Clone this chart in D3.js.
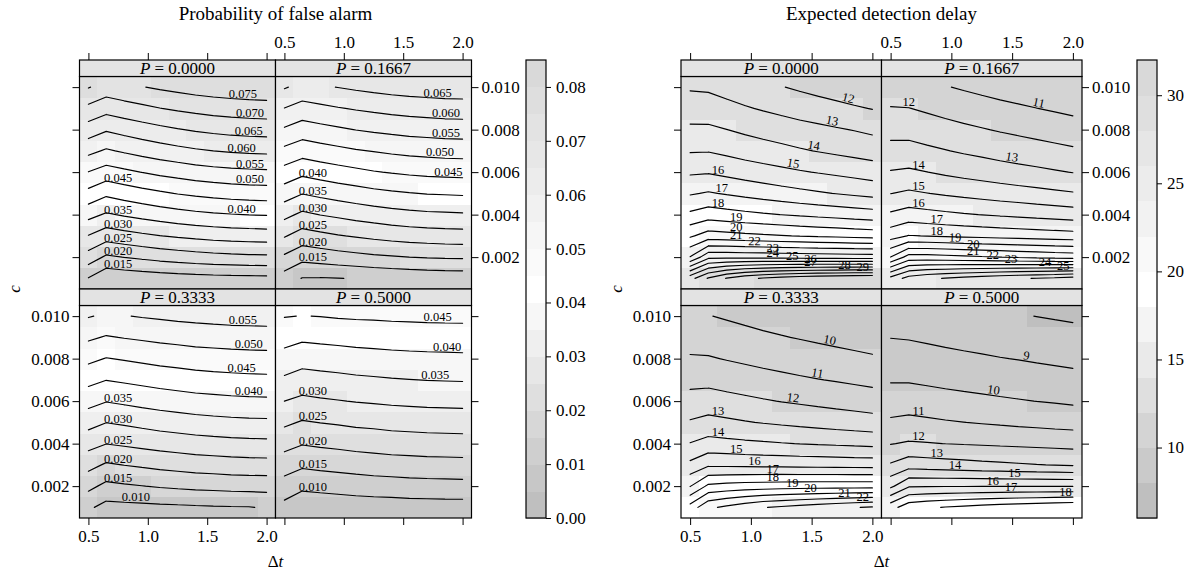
<!DOCTYPE html>
<html>
<head>
<meta charset="utf-8">
<script src="https://cdn.jsdelivr.net/npm/d3@7"></script>
<style>
  body { margin: 0; background: #fff; }
  text { font-family: "Liberation Serif", "Times New Roman", serif; fill: #000; }
</style>
</head>
<body>
<svg id="chart" width="1192" height="575"></svg>
<script>
// grid the surfaces were computed on
const dtValues = [0.5, 0.65, 0.8, 0.95, 1.1, 1.25, 1.4, 1.55, 1.7, 1.85, 2.0];
const cValues = [0.001, 0.002, 0.003, 0.004, 0.005, 0.006, 0.007, 0.008, 0.009, 0.010];
const pLabels = ["0.0000", "0.1667", "0.3333", "0.5000"];

const xTicks = [0.5, 1.0, 1.5, 2.0];
const yTicks = [0.002, 0.004, 0.006, 0.008, 0.010];

const faLevels = [0.010, 0.015, 0.020, 0.025, 0.030, 0.035, 0.040, 0.045, 0.050, 0.055, 0.060, 0.065, 0.070, 0.075, 0.080];
const faKeyCuts = [0, 0.005, 0.010, 0.015, 0.020, 0.025, 0.030, 0.035, 0.040, 0.045, 0.050, 0.055, 0.060, 0.065, 0.070, 0.075, 0.080, 0.085];
const faKeyTicks = [0, 0.01, 0.02, 0.03, 0.04, 0.05, 0.06, 0.07, 0.08];

const delayLevels = [8, 9, 10, 11, 12, 13, 14, 15, 16, 17, 18, 19, 20, 21, 22, 23, 24, 25, 26, 27, 28, 29, 30];
const delayKeyCuts = [6, 8, 10, 12, 14, 16, 18, 20, 22, 24, 26, 28, 30, 32];
const delayKeyTicks = [10, 15, 20, 25, 30];

// probability of false alarm, one row per c value (0.001 .. 0.010), one column per dt
const faP0000 = [
  [0.0148, 0.0112, 0.0117, 0.0121, 0.0125, 0.0129, 0.0132, 0.0134, 0.0136, 0.0137, 0.0138],
  [0.0228, 0.0192, 0.0201, 0.0209, 0.0217, 0.0223, 0.0229, 0.0234, 0.0237, 0.0240, 0.0241],
  [0.0298, 0.0272, 0.0282, 0.0291, 0.0299, 0.0306, 0.0312, 0.0317, 0.0321, 0.0323, 0.0325],
  [0.0366, 0.0344, 0.0355, 0.0365, 0.0374, 0.0382, 0.0389, 0.0394, 0.0398, 0.0401, 0.0403],
  [0.0435, 0.0410, 0.0422, 0.0433, 0.0443, 0.0452, 0.0459, 0.0465, 0.0470, 0.0473, 0.0475],
  [0.0499, 0.0479, 0.0490, 0.0501, 0.0511, 0.0519, 0.0527, 0.0533, 0.0537, 0.0540, 0.0542],
  [0.0563, 0.0544, 0.0556, 0.0567, 0.0577, 0.0586, 0.0594, 0.0600, 0.0605, 0.0608, 0.0610],
  [0.0627, 0.0605, 0.0617, 0.0628, 0.0638, 0.0647, 0.0655, 0.0661, 0.0666, 0.0669, 0.0671],
  [0.0687, 0.0668, 0.0679, 0.0689, 0.0699, 0.0707, 0.0714, 0.0720, 0.0724, 0.0727, 0.0729],
  [0.0753, 0.0728, 0.0738, 0.0748, 0.0757, 0.0764, 0.0771, 0.0776, 0.0780, 0.0783, 0.0785]
];
const faP1667 = [
  [0.0128, 0.0098, 0.0097, 0.0099, 0.0102, 0.0106, 0.0110, 0.0113, 0.0116, 0.0118, 0.0119],
  [0.0192, 0.0166, 0.0173, 0.0180, 0.0186, 0.0192, 0.0196, 0.0200, 0.0203, 0.0205, 0.0206],
  [0.0254, 0.0229, 0.0238, 0.0247, 0.0254, 0.0261, 0.0267, 0.0272, 0.0275, 0.0278, 0.0279],
  [0.0314, 0.0290, 0.0301, 0.0309, 0.0318, 0.0325, 0.0332, 0.0337, 0.0341, 0.0343, 0.0345],
  [0.0374, 0.0352, 0.0362, 0.0371, 0.0379, 0.0387, 0.0393, 0.0398, 0.0402, 0.0404, 0.0406],
  [0.0432, 0.0412, 0.0422, 0.0431, 0.0439, 0.0447, 0.0453, 0.0458, 0.0462, 0.0464, 0.0466],
  [0.0488, 0.0471, 0.0480, 0.0488, 0.0496, 0.0502, 0.0508, 0.0513, 0.0516, 0.0519, 0.0520],
  [0.0544, 0.0526, 0.0535, 0.0543, 0.0551, 0.0557, 0.0562, 0.0567, 0.0570, 0.0573, 0.0574],
  [0.0599, 0.0581, 0.0589, 0.0597, 0.0604, 0.0610, 0.0616, 0.0620, 0.0623, 0.0626, 0.0627],
  [0.0654, 0.0636, 0.0644, 0.0651, 0.0658, 0.0664, 0.0669, 0.0673, 0.0676, 0.0678, 0.0679]
];
const faP3333 = [
  [0.0108, 0.0084, 0.0086, 0.0088, 0.0090, 0.0092, 0.0094, 0.0096, 0.0097, 0.0098, 0.0104],
  [0.0163, 0.0138, 0.0144, 0.0149, 0.0154, 0.0158, 0.0162, 0.0164, 0.0167, 0.0168, 0.0169],
  [0.0216, 0.0194, 0.0201, 0.0207, 0.0213, 0.0218, 0.0223, 0.0226, 0.0229, 0.0231, 0.0232],
  [0.0267, 0.0251, 0.0257, 0.0263, 0.0269, 0.0274, 0.0279, 0.0282, 0.0285, 0.0287, 0.0288],
  [0.0318, 0.0301, 0.0307, 0.0314, 0.0321, 0.0326, 0.0331, 0.0335, 0.0338, 0.0340, 0.0341],
  [0.0367, 0.0352, 0.0359, 0.0366, 0.0372, 0.0377, 0.0382, 0.0385, 0.0388, 0.0390, 0.0391],
  [0.0415, 0.0401, 0.0407, 0.0413, 0.0419, 0.0424, 0.0429, 0.0432, 0.0435, 0.0437, 0.0438],
  [0.0462, 0.0448, 0.0454, 0.0460, 0.0466, 0.0470, 0.0475, 0.0478, 0.0480, 0.0482, 0.0483],
  [0.0508, 0.0496, 0.0502, 0.0507, 0.0512, 0.0516, 0.0520, 0.0522, 0.0525, 0.0526, 0.0527],
  [0.0553, 0.0543, 0.0548, 0.0553, 0.0557, 0.0561, 0.0564, 0.0567, 0.0569, 0.0570, 0.0571]
];
const faP5000 = [
  [0.0085, 0.0064, 0.0067, 0.0069, 0.0072, 0.0074, 0.0075, 0.0077, 0.0078, 0.0079, 0.0079],
  [0.0129, 0.0111, 0.0115, 0.0119, 0.0123, 0.0126, 0.0128, 0.0131, 0.0132, 0.0133, 0.0134],
  [0.0173, 0.0158, 0.0163, 0.0167, 0.0171, 0.0175, 0.0178, 0.0180, 0.0182, 0.0183, 0.0184],
  [0.0217, 0.0203, 0.0208, 0.0212, 0.0217, 0.0220, 0.0224, 0.0226, 0.0228, 0.0229, 0.0230],
  [0.0259, 0.0246, 0.0251, 0.0255, 0.0260, 0.0263, 0.0267, 0.0269, 0.0271, 0.0272, 0.0273],
  [0.0300, 0.0289, 0.0294, 0.0298, 0.0302, 0.0305, 0.0308, 0.0310, 0.0312, 0.0313, 0.0314],
  [0.0342, 0.0329, 0.0333, 0.0337, 0.0341, 0.0344, 0.0347, 0.0349, 0.0351, 0.0352, 0.0353],
  [0.0381, 0.0369, 0.0373, 0.0376, 0.0380, 0.0382, 0.0385, 0.0387, 0.0388, 0.0389, 0.0390],
  [0.0419, 0.0409, 0.0412, 0.0415, 0.0418, 0.0420, 0.0422, 0.0423, 0.0425, 0.0425, 0.0426],
  [0.0452, 0.0449, 0.0451, 0.0454, 0.0456, 0.0457, 0.0459, 0.0460, 0.0461, 0.0462, 0.0462]
];

// expected detection delay, same layout
const delayP0000 = [
  [26.6, 28.1, 29.05, 29.7, 30.1, 30.4, 30.6, 30.75, 30.85, 30.95, 31.0],
  [22.05, 23.73, 23.75, 23.72, 23.7, 23.66, 23.62, 23.58, 23.55, 23.52, 23.5],
  [19.85, 20.46, 20.35, 20.24, 20.14, 20.05, 19.96, 19.88, 19.80, 19.71, 19.63],
  [18.2, 18.52, 18.38, 18.24, 18.11, 17.99, 17.87, 17.76, 17.66, 17.55, 17.44],
  [16.9, 17.09, 16.91, 16.73, 16.56, 16.40, 16.25, 16.11, 15.97, 15.83, 15.69],
  [15.86, 15.92, 15.74, 15.56, 15.40, 15.24, 15.09, 14.95, 14.82, 14.68, 14.54],
  [14.92, 14.95, 14.77, 14.58, 14.41, 14.26, 14.10, 13.96, 13.82, 13.68, 13.54],
  [14.17, 14.17, 14.01, 13.82, 13.66, 13.51, 13.36, 13.23, 13.09, 12.96, 12.82],
  [13.52, 13.49, 13.29, 13.09, 12.91, 12.74, 12.57, 12.42, 12.27, 12.11, 11.96],
  [12.89, 12.84, 12.63, 12.41, 12.22, 12.04, 11.86, 11.69, 11.53, 11.36, 11.2]
];
const delayP1667 = [
  [24.3, 25.4, 25.8, 26.05, 26.3, 26.5, 26.7, 26.88, 27.05, 27.2, 27.4],
  [20.01, 21.4, 21.4, 21.3, 21.2, 21.1, 21.01, 20.9, 20.8, 20.7, 20.62],
  [17.58, 18.05, 17.97, 17.89, 17.81, 17.74, 17.67, 17.61, 17.55, 17.48, 17.42],
  [16.15, 16.43, 16.31, 16.19, 16.08, 15.98, 15.88, 15.79, 15.69, 15.60, 15.51],
  [14.98, 15.16, 15.02, 14.88, 14.75, 14.63, 14.51, 14.40, 14.29, 14.18, 14.07],
  [14.06, 14.15, 14.01, 13.84, 13.70, 13.57, 13.44, 13.32, 13.21, 13.09, 12.97],
  [13.33, 13.35, 13.19, 13.04, 12.89, 12.76, 12.62, 12.50, 12.38, 12.26, 12.14],
  [12.66, 12.65, 12.49, 12.34, 12.19, 12.06, 11.92, 11.80, 11.68, 11.56, 11.44],
  [12.05, 12.02, 11.86, 11.69, 11.54, 11.40, 11.26, 11.14, 11.01, 10.89, 10.76],
  [11.45, 11.39, 11.22, 11.05, 10.90, 10.75, 10.61, 10.48, 10.35, 10.22, 10.09]
];
const delayP3333 = [
  [19.4, 20.8, 21.2, 21.6, 21.95, 22.15, 22.35, 22.55, 22.75, 22.95, 23.1],
  [16.95, 18.2, 18.35, 18.45, 18.5, 18.55, 18.58, 18.6, 18.61, 18.62, 18.62],
  [15.24, 15.84, 15.81, 15.78, 15.75, 15.73, 15.70, 15.68, 15.66, 15.63, 15.61],
  [14.04, 14.35, 14.27, 14.19, 14.12, 14.05, 13.98, 13.92, 13.86, 13.80, 13.74],
  [13.09, 13.30, 13.18, 13.06, 12.95, 12.85, 12.75, 12.66, 12.57, 12.48, 12.39],
  [12.36, 12.45, 12.32, 12.20, 12.08, 11.97, 11.87, 11.77, 11.67, 11.58, 11.48],
  [11.71, 11.72, 11.59, 11.47, 11.35, 11.24, 11.13, 11.03, 10.94, 10.84, 10.74],
  [11.11, 11.08, 10.95, 10.83, 10.71, 10.60, 10.50, 10.40, 10.30, 10.21, 10.11],
  [10.54, 10.51, 10.39, 10.27, 10.15, 10.05, 9.95, 9.85, 9.76, 9.66, 9.57],
  [10.08, 10.03, 9.91, 9.79, 9.68, 9.57, 9.47, 9.38, 9.29, 9.19, 9.1]
];
const delayP5000 = [
  [17.6, 18.6, 18.85, 19.05, 19.2, 19.35, 19.5, 19.6, 19.7, 19.8, 19.9],
  [14.77, 15.9, 15.93, 15.94, 15.95, 15.95, 15.96, 15.96, 15.96, 15.96, 15.96],
  [13.1, 13.57, 13.48, 13.40, 13.32, 13.24, 13.17, 13.10, 13.03, 12.97, 12.9],
  [11.96, 12.1, 12.05, 11.99, 11.94, 11.90, 11.85, 11.81, 11.77, 11.73, 11.69],
  [11.15, 11.25, 11.17, 11.08, 11.01, 10.94, 10.87, 10.80, 10.74, 10.67, 10.61],
  [10.5, 10.54, 10.45, 10.36, 10.28, 10.21, 10.13, 10.06, 9.99, 9.93, 9.86],
  [9.92, 9.91, 9.83, 9.74, 9.67, 9.60, 9.53, 9.46, 9.40, 9.33, 9.27],
  [9.44, 9.42, 9.34, 9.25, 9.17, 9.10, 9.03, 8.97, 8.90, 8.84, 8.77],
  [8.98, 8.94, 8.86, 8.78, 8.71, 8.65, 8.58, 8.52, 8.46, 8.40, 8.34],
  [8.59, 8.54, 8.45, 8.36, 8.28, 8.20, 8.13, 8.06, 7.99, 7.92, 7.85]
];

// where the contour labels sit: [level, dt along the line, rotate with line]
const faLabelSpots = [
  [[0.075, 1.80], [0.070, 1.86], [0.065, 1.85], [0.060, 1.79], [0.055, 1.86], [0.050, 1.86], [0.045, 0.75],
   [0.040, 1.79], [0.035, 0.75], [0.030, 0.75], [0.025, 0.75], [0.020, 0.75], [0.015, 0.75]],
  [[0.065, 1.79], [0.060, 1.86], [0.055, 1.86], [0.050, 1.81], [0.045, 1.88], [0.040, 0.74], [0.035, 0.74],
   [0.030, 0.74], [0.025, 0.74], [0.020, 0.74], [0.015, 0.74]],
  [[0.055, 1.80], [0.050, 1.85], [0.045, 1.79], [0.040, 1.85], [0.035, 0.75], [0.030, 0.75], [0.025, 0.75],
   [0.020, 0.75], [0.015, 0.75], [0.010, 0.90]],
  [[0.045, 1.79], [0.040, 1.87], [0.035, 1.77], [0.030, 0.74], [0.025, 0.74], [0.020, 0.74], [0.015, 0.74], [0.010, 0.74]]
];
const delayLabelSpots = [
  [[12, 1.79, 1], [13, 1.66, 1], [14, 1.51, 1], [15, 1.34, 1], [16, 0.73, 0], [17, 0.76, 0], [18, 0.73, 0],
   [19, 0.88, 0], [20, 0.88, 0], [21, 0.88, 0], [22, 1.03, 1], [23, 1.18, 0], [24, 1.18, 0], [25, 1.34, 0],
   [26, 1.49, 0], [27, 1.49, 0], [28, 1.77, 0], [29, 1.92, 0]],
  [[11, 1.71, 1], [12, 0.65, 0], [13, 1.49, 1], [14, 0.73, 0], [15, 0.73, 0], [16, 0.73, 0], [17, 0.88, 0],
   [18, 0.88, 0], [19, 1.03, 1], [20, 1.18, 1], [21, 1.18, 0], [22, 1.34, 0], [23, 1.49, 0], [24, 1.77, 0], [25, 1.92, 0]],
  [[10, 1.64, 1], [11, 1.54, 1], [12, 1.34, 1], [13, 0.73, 0], [14, 0.73, 0], [15, 0.88, 0], [16, 1.03, 0],
   [17, 1.18, 0], [18, 1.18, 0], [19, 1.34, 0], [20, 1.49, 0], [21, 1.77, 0], [22, 1.92, 0]],
  [[9, 1.61, 1], [10, 1.34, 1], [11, 0.73, 0], [12, 0.73, 0], [13, 0.88, 0], [14, 1.03, 0], [15, 1.52, 0],
   [16, 1.34, 0], [17, 1.49, 0], [18, 1.94, 0]]
];

const svg = d3.select("#chart");

const plotTop = 60, stripH = 16.5, panelH = 212.5;
const xDomain = [0.425, 2.075];
const cDomain = [0.0005, 0.0105];

const dtAt = d3.scaleLinear().domain(d3.range(dtValues.length)).range(dtValues);
const dtIndex = d3.scaleLinear().domain(dtValues).range(d3.range(dtValues.length));
const cAt = d3.scaleLinear().domain(d3.range(cValues.length)).range(cValues);

const shade = d3.scaleLinear().domain([0, 0.5, 1]).range(["#bfbfbf", "#ffffff", "#d9d9d9"]);

function binColour(cuts) {
  const n = cuts.length - 1;
  return v => {
    const k = Math.max(0, Math.min(n - 1, d3.bisectRight(cuts, v) - 1));
    return shade(k / (n - 1));
  };
}

function cellEdges(vals) {
  return vals.map((v, i) => [
    i === 0 ? v - (vals[1] - vals[0]) / 2 : (vals[i - 1] + v) / 2,
    i === vals.length - 1 ? v + (v - vals[i - 1]) / 2 : (v + vals[i + 1]) / 2
  ]);
}
const dtEdges = cellEdges(dtValues);
const cEdges = cellEdges(cValues);

// marching squares, segments in grid index space
function isoSegments(grid, level) {
  const segs = [];
  for (let j = 0; j < grid.length - 1; j++) {
    for (let i = 0; i < grid[0].length - 1; i++) {
      const v = [grid[j][i], grid[j][i + 1], grid[j + 1][i + 1], grid[j + 1][i]];
      const p = [[i, j], [i + 1, j], [i + 1, j + 1], [i, j + 1]];
      const pts = [];
      for (let k = 0; k < 4; k++) {
        const a = v[k], b = v[(k + 1) % 4];
        if ((a < level) !== (b < level)) {
          const t = (level - a) / (b - a);
          const pa = p[k], pb = p[(k + 1) % 4];
          pts.push([pa[0] + t * (pb[0] - pa[0]), pa[1] + t * (pb[1] - pa[1])]);
        }
      }
      if (pts.length === 2) segs.push(pts);
      else if (pts.length === 4) {
        const centre = (v[0] + v[1] + v[2] + v[3]) / 4;
        if ((v[0] < level) === (centre < level)) {
          segs.push([pts[0], pts[1]], [pts[2], pts[3]]);
        } else {
          segs.push([pts[3], pts[0]], [pts[1], pts[2]]);
        }
      }
    }
  }
  return segs;
}

function styleAxis(g) {
  g.attr("font-size", null).attr("font-family", null);
  g.select(".domain").remove();
  g.selectAll(".tick line").attr("stroke", "#000").attr("stroke-width", 1);
  g.selectAll(".tick text").style("font-size", "17px");
}

function drawPlot(spec) {
  const plot = svg.append("g");
  const colour = binColour(spec.cuts);

  spec.grids.forEach((grid, k) => {
    const col = k % 2, row = Math.floor(k / 2);
    const x0 = spec.left + col * spec.colW;
    const y0 = plotTop + row * (stripH + panelH) + stripH;
    const x = d3.scaleLinear().domain(xDomain).range([x0, x0 + spec.colW]);
    const y = d3.scaleLinear().domain(cDomain).range([y0 + panelH, y0]);
    const px = pt => x(dtAt(pt[0]));
    const py = pt => y(cAt(pt[1]));

    const clipId = `clip-${spec.id}-${k}`;
    plot.append("clipPath").attr("id", clipId)
      .append("rect").attr("x", x0).attr("y", y0).attr("width", spec.colW).attr("height", panelH);
    const body = plot.append("g").attr("clip-path", `url(#${clipId})`);

    const cells = [];
    grid.forEach((rowVals, j) => rowVals.forEach((v, i) => cells.push({ i, j, v })));
    body.selectAll("rect.cell").data(cells).join("rect")
      .attr("class", "cell")
      .attr("x", d => x(dtEdges[d.i][0]))
      .attr("width", d => x(dtEdges[d.i][1]) - x(dtEdges[d.i][0]) + 0.5)
      .attr("y", d => y(cEdges[d.j][1]))
      .attr("height", d => y(cEdges[d.j][0]) - y(cEdges[d.j][1]) + 0.5)
      .attr("fill", d => colour(d.v))
      .attr("shape-rendering", "crispEdges");

    spec.levels.forEach(level => {
      const segs = isoSegments(grid, level);
      if (!segs.length) return;
      body.append("path")
        .attr("d", segs.map(s => `M${px(s[0])},${py(s[0])}L${px(s[1])},${py(s[1])}`).join(""))
        .attr("fill", "none")
        .attr("stroke", "#000")
        .attr("stroke-width", 1.15)
        .attr("stroke-linecap", "round");
    });

    // contour labels
    spec.labels[k].forEach(([level, dt, rot]) => {
      const fi = dtIndex(dt);
      const seg = isoSegments(grid, level)
        .find(s => s[0][0] !== s[1][0] && (s[0][0] - fi) * (s[1][0] - fi) <= 0);
      if (!seg) return;
      const t = (fi - seg[0][0]) / (seg[1][0] - seg[0][0]);
      const fj = seg[0][1] + t * (seg[1][1] - seg[0][1]);
      let angle = 0;
      if (rot) {
        angle = Math.atan2(py(seg[1]) - py(seg[0]), px(seg[1]) - px(seg[0])) * 180 / Math.PI;
        if (angle > 90) angle -= 180;
        if (angle < -90) angle += 180;
      }
      body.append("text")
        .attr("transform", `translate(${x(dt)},${y(cAt(fj))}) rotate(${angle})`)
        .attr("y", -1.5)
        .attr("text-anchor", "middle")
        .style("font-size", "12.5px")
        .text(spec.labelFormat(level));
    });

    plot.append("rect")
      .attr("x", x0).attr("y", y0).attr("width", spec.colW).attr("height", panelH)
      .attr("fill", "none").attr("stroke", "#000").attr("stroke-width", 1.2);

    // strip
    plot.append("rect")
      .attr("x", x0).attr("y", y0 - stripH).attr("width", spec.colW).attr("height", stripH)
      .attr("fill", "#e3e3e3").attr("stroke", "#000").attr("stroke-width", 1.2);
    const st = plot.append("text")
      .attr("x", x0 + spec.colW / 2).attr("y", y0 - 2.5)
      .attr("text-anchor", "middle")
      .style("font-size", "17px");
    st.append("tspan").style("font-style", "italic").text("P");
    st.append("tspan").text(" = " + pLabels[k]);

    // axes, lattice style alternating labels
    const xFmt = d3.format(".1f"), yFmt = d3.format(".3f");
    if (row === 1) {
      plot.append("g").attr("transform", `translate(0,${y0 + panelH})`)
        .call(d3.axisBottom(x).tickValues(xTicks).tickSize(7).tickPadding(5)
          .tickFormat(col === 0 ? xFmt : () => ""))
        .call(styleAxis);
    } else {
      plot.append("g").attr("transform", `translate(0,${y0 - stripH})`)
        .call(d3.axisTop(x).tickValues(xTicks).tickSize(7).tickPadding(5)
          .tickFormat(col === 1 ? xFmt : () => ""))
        .call(styleAxis);
    }
    if (col === 0) {
      plot.append("g").attr("transform", `translate(${x0},0)`)
        .call(d3.axisLeft(y).tickValues(yTicks).tickSize(7).tickPadding(3)
          .tickFormat(row === 1 ? yFmt : () => ""))
        .call(styleAxis);
    } else {
      plot.append("g").attr("transform", `translate(${x0 + spec.colW},0)`)
        .call(d3.axisRight(y).tickValues(yTicks).tickSize(7).tickPadding(3)
          .tickFormat(row === 0 ? yFmt : () => ""))
        .call(styleAxis);
    }
  });

  // colour key
  const keyBottom = plotTop + 2 * (stripH + panelH);
  const key = d3.scaleLinear().domain([spec.cuts[0], spec.cuts[spec.cuts.length - 1]]).range([keyBottom, plotTop]);
  const nb = spec.cuts.length - 1;
  plot.selectAll("rect.key").data(d3.range(nb)).join("rect")
    .attr("class", "key")
    .attr("x", spec.keyX).attr("width", 20)
    .attr("y", b => key(spec.cuts[b + 1]))
    .attr("height", b => key(spec.cuts[b]) - key(spec.cuts[b + 1]) + 0.5)
    .attr("fill", b => shade(b / (nb - 1)))
    .attr("shape-rendering", "crispEdges");
  plot.append("rect")
    .attr("x", spec.keyX).attr("y", plotTop).attr("width", 20).attr("height", keyBottom - plotTop)
    .attr("fill", "none").attr("stroke", "#000").attr("stroke-width", 1.2);
  plot.append("g").attr("transform", `translate(${spec.keyX + 20},0)`)
    .call(d3.axisRight(key).tickValues(spec.keyTicks).tickSize(5).tickPadding(5).tickFormat(spec.keyFormat))
    .call(styleAxis);

  // titles
  const midX = spec.left + spec.colW;
  plot.append("text").attr("x", midX).attr("y", 20).attr("text-anchor", "middle")
    .style("font-size", "19px").text(spec.title);
  const xl = plot.append("text").attr("x", midX).attr("y", 567).attr("text-anchor", "middle")
    .style("font-size", "17px");
  xl.append("tspan").text("\u0394");
  xl.append("tspan").style("font-style", "italic").text("t");
  plot.append("text")
    .attr("transform", `translate(${spec.cLabelX},${plotTop + stripH + panelH}) rotate(-90)`)
    .attr("text-anchor", "middle")
    .style("font-size", "17px").style("font-style", "italic")
    .text("c");
}

drawPlot({
  id: "fa",
  title: "Probability of false alarm",
  left: 79.5, colW: 196, keyX: 526, cLabelX: 20,
  grids: [faP0000, faP1667, faP3333, faP5000],
  levels: faLevels,
  labels: faLabelSpots,
  labelFormat: d3.format(".3f"),
  cuts: faKeyCuts, keyTicks: faKeyTicks, keyFormat: d3.format(".2f")
});

drawPlot({
  id: "delay",
  title: "Expected detection delay",
  left: 681, colW: 200.5, keyX: 1137, cLabelX: 622,
  grids: [delayP0000, delayP1667, delayP3333, delayP5000],
  levels: delayLevels,
  labels: delayLabelSpots,
  labelFormat: d3.format("d"),
  cuts: delayKeyCuts, keyTicks: delayKeyTicks, keyFormat: d3.format("d")
});
</script>
</body>
</html>
